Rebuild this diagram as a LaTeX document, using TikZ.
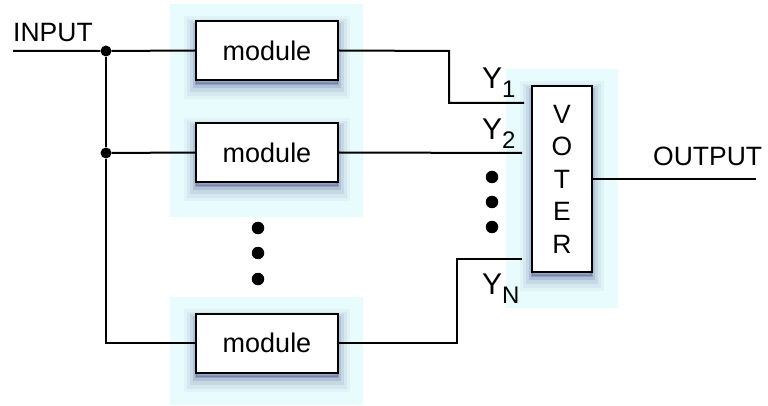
\documentclass[tikz,border=0pt]{standalone}
\usepackage{fontspec}
\setmainfont{Liberation Sans}
\usetikzlibrary{positioning}
\definecolor{bgc}{RGB}{232,252,253}
\definecolor{shc}{RGB}{45,55,120}
\tikzset{
  shadowed/.style={
    preaction={draw=shc, line width=24pt, draw opacity=0.04, transform canvas={yshift=-7pt}},
    preaction={draw=shc, line width=18pt, draw opacity=0.06, transform canvas={yshift=-7pt}},
    preaction={draw=shc, line width=12pt, draw opacity=0.09, transform canvas={yshift=-6pt}},
    preaction={draw=shc, line width=6pt, draw opacity=0.14, transform canvas={yshift=-5pt}},
    preaction={draw=shc, line width=2pt, draw opacity=0.2, fill=shc, fill opacity=0.3, transform canvas={yshift=-4pt}}},
  box/.style={draw=black, line width=2pt, fill=white, shadowed, inner sep=0pt},
  module/.style={box, minimum width=142pt, minimum height=59pt, font=\fontsize{27}{30}\selectfont},
  wire/.style={line width=2pt},
  jdot/.style={circle, fill=black, inner sep=0pt, minimum size=11pt},
  edot/.style={circle, fill=black, inner sep=0pt, minimum size=12.5pt},
  lbl/.style={inner sep=0pt, font=\fontsize{26.5}{30}\selectfont},
  ylbl/.style={inner sep=0pt, anchor=base west, font=\fontsize{30}{30}\selectfont},
  bg/.style={fill=bgc, draw=none}
}
\newcommand{\ysub}[1]{\raisebox{-9pt}{\fontsize{24}{24}\selectfont #1}}
\begin{document}
\begin{tikzpicture}[x=1pt, y=-1pt]
\useasboundingbox (0,0) rectangle (768,406);
% backgrounds
\fill[bgc] (170,4) rectangle (363,217);
\fill[bgc] (170,297) rectangle (363,405);
\fill[bgc] (506,69) rectangle (618,308);
% modules
\node[module] (m1) at (267,50.5) {module};
\node[module] (m2) at (267,152.5) {module};
\node[module] (m3) at (267,343) {module};
% voter
\node[box, minimum width=60pt, minimum height=186pt, align=center,
      font=\fontsize{26.5}{32.5}\selectfont] (v) at (562,179) {V\\O\\T\\E\\R};
% input side
\coordinate (in) at (13,51);
\node[jdot] (j1) at (106,51) {};
\node[jdot] (j2) at (106,153) {};
\coordinate (c3) at (106,343);
\node[lbl, anchor=base west] (inl) at (13,42) {INPUT};
\draw[wire] (in) -- (j1) -- (m1.west);
\draw[wire] (j1) -- (j2) -- (c3) -- (m3.west);
\draw[wire] (j2) -- (m2.west);
% outputs
\coordinate (y1a) at (449,51);
\coordinate (y1b) at (449,103);
\coordinate (y1e) at (524,103);
\coordinate (y2e) at (522,153);
\coordinate (yna) at (457,343);
\coordinate (ynb) at (457,259);
\coordinate (yne) at (522,259);
\draw[wire] (m1.east) -- (y1a) -- (y1b) -- (y1e);
\draw[wire] (m2.east) -- (y2e);
\draw[wire] (m3.east) -- (yna) -- (ynb) -- (yne);
\node[ylbl] (l1) at (482,89) {Y\ysub{1}};
\node[ylbl] (l2) at (482,140) {Y\ysub{2}};
\node[ylbl] (ln) at (482,294) {Y\ysub{N}};
% output
\coordinate (out) at (756,179);
\draw[wire] (v.east |- out) -- (out);
\node[lbl, anchor=base west] (outl) at (653,166) {OUTPUT};
% ellipsis dots
\node[edot] (d1) at (258,228) {};
\node[edot] (d2) at (258,253) {};
\node[edot] (d3) at (258,279) {};
\node[edot] (e1) at (492,177) {};
\node[edot] (e2) at (492,202) {};
\node[edot] (e3) at (492,227) {};
\end{tikzpicture}
\end{document}
